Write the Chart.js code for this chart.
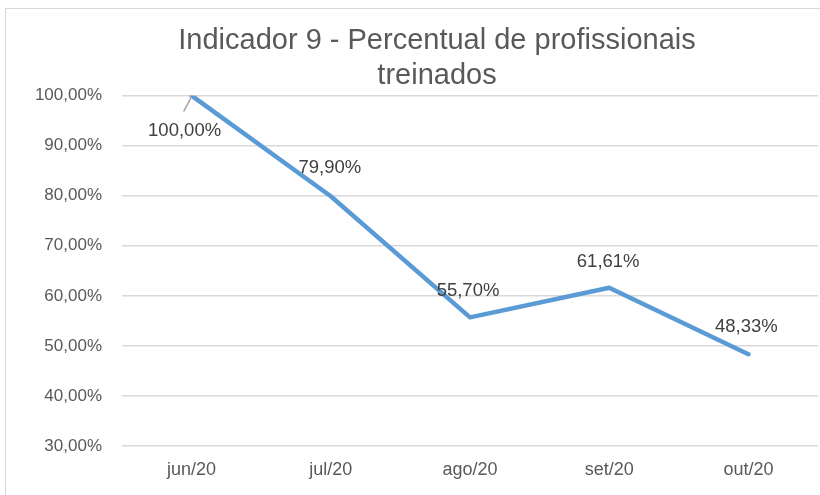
<!DOCTYPE html>
<html>
<head>
<meta charset="utf-8">
<script src="https://cdn.jsdelivr.net/npm/chart.js@4/dist/chart.umd.min.js"></script>
<style>
  body { margin: 0; background: #fff; overflow: hidden; }
  #wrap {
    position: absolute; left: 5px; top: 8px;
    width: 860px; height: 487px;
    border-left: 1px solid #d9d9d9; border-top: 1px solid #d9d9d9;
  }
</style>
</head>
<body>
<div id="wrap"><canvas id="chart"></canvas></div>
<script>
const months = ['jun/20', 'jul/20', 'ago/20', 'set/20', 'out/20'];
const trainedPct = [100.00, 79.90, 55.70, 61.61, 48.33];
const titleLines = ['Indicador 9 - Percentual de profissionais', 'treinados'];

const FONT = '"Liberation Sans", Arial, sans-serif';

function pct(v) {
    return v.toFixed(2).replace('.', ',') + '%';
}

// draws the value labels next to each point (no datalabels plugin offline)
const valueLabels = {
    id: 'valueLabels',
    afterDatasetsDraw(chart, args, opts) {
        const ctx = chart.ctx;
        const meta = chart.getDatasetMeta(0);
        const values = chart.data.datasets[0].data;
        ctx.save();
        ctx.font = '18.5px ' + FONT;
        ctx.fillStyle = '#404040';
        ctx.textAlign = 'center';
        ctx.textBaseline = 'middle';
        meta.data.forEach(function (pt, i) {
            const off = opts.offsets[i];
            if (i === 0) {
                // leader line for the first label
                ctx.strokeStyle = '#a6a6a6';
                ctx.lineWidth = 1.5;
                ctx.beginPath();
                ctx.moveTo(pt.x, pt.y + 1);
                ctx.lineTo(pt.x - 8, pt.y + 16);
                ctx.stroke();
            }
            ctx.fillText(pct(values[i]), pt.x + off[0], pt.y + off[1]);
        });
        ctx.restore();
    }
};

// nudge the title box so it is centred like the original (wider) chart
const titleShift = {
    id: 'titleShift',
    afterLayout(chart, args, opts) {
        if (chart.titleBlock) {
            chart.titleBlock.left += opts.dx;
        }
    }
};

document.addEventListener('DOMContentLoaded', function () {
    const canvas = document.getElementById('chart');
    new Chart(canvas, {
        type: 'line',
        data: {
            labels: months,
            datasets: [{
                label: 'Percentual de profissionais treinados',
                data: trainedPct,
                borderColor: '#5b9bd5',
                borderWidth: 4.5,
                borderCapStyle: 'round',
                borderJoinStyle: 'round',
                pointRadius: 0,
                tension: 0,
                fill: false
            }]
        },
        options: {
            responsive: true,
            maintainAspectRatio: false,
            animation: false,
            // chart is wider than the window, like the cropped original
            layout: { padding: { left: 0, right: 48, top: 0, bottom: 0 } },
            scales: {
                x: {
                    offset: true,
                    grid: { display: false },
                    border: { display: false },
                    ticks: {
                        color: '#595959',
                        font: { family: FONT, size: 18 },
                        padding: 5
                    },
                    afterFit(scale) { scale.height = 50; }
                },
                y: {
                    min: 30,
                    max: 100,
                    grid: { color: '#d9d9d9', lineWidth: 1.5, drawTicks: false },
                    border: { display: false },
                    ticks: {
                        stepSize: 10,
                        color: '#595959',
                        font: { family: FONT, size: 17 },
                        padding: 20,
                        callback: function (v) { return pct(v); }
                    },
                    afterFit(scale) { scale.width = 116; }
                }
            },
            plugins: {
                legend: { display: false },
                tooltip: { enabled: false },
                title: {
                    display: true,
                    text: titleLines,
                    color: '#595959',
                    font: { family: FONT, size: 29, weight: 'normal', lineHeight: 1.2 },
                    padding: { top: 15, bottom: 2 }
                },
                titleShift: { dx: 50 },
                valueLabels: {
                    offsets: [[-7, 35], [-1, -28], [-2, -26], [-1, -26], [-2, -27]]
                }
            }
        },
        plugins: [valueLabels, titleShift]
    });
});
</script>
</body>
</html>
